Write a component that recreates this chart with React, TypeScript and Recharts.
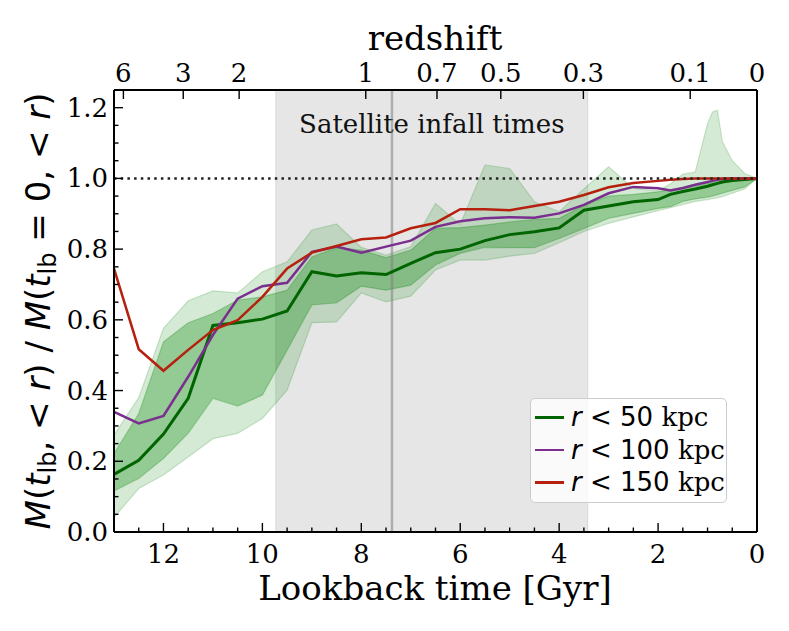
import React from 'react';
import {
  ComposedChart,
  Area,
  Line,
  XAxis,
  YAxis,
  ReferenceArea,
  ReferenceLine,
  Legend,
} from 'recharts';

// lookback time [Gyr] of each snapshot
const LOOKBACK = [
  13, 12.5, 12, 11.5, 11, 10.5, 10, 9.5, 9, 8.5, 8, 7.5, 7, 6.5, 6, 5.5, 5, 4.5, 4, 3.5, 3, 2.5, 2, 1.75, 1.5, 1.25,
  1.0, 0.9, 0.8, 0.7, 0.5, 0.25, 0,
];

// median M(t_lb, <r) / M(0, <r)
const R50 = [
  0.163, 0.203, 0.277, 0.378, 0.584, 0.592, 0.602, 0.625, 0.736, 0.724, 0.733, 0.728, 0.76, 0.79, 0.8, 0.824, 0.841,
  0.849, 0.86, 0.91, 0.922, 0.934, 0.94, 0.955, 0.963, 0.97, 0.978, 0.982, 0.986, 0.99, 0.994, 0.997, 1.0,
];
const R100 = [
  0.34, 0.307, 0.328, 0.439, 0.557, 0.66, 0.695, 0.705, 0.792, 0.807, 0.79, 0.807, 0.824, 0.863, 0.879, 0.887, 0.89,
  0.889, 0.901, 0.925, 0.958, 0.976, 0.972, 0.966, 0.973, 0.982, 0.99, 0.993, 0.996, 0.998, 1.0, 1.0, 1.0,
];
const R150 = [
  0.745, 0.517, 0.456, 0.515, 0.571, 0.599, 0.665, 0.745, 0.79, 0.809, 0.828, 0.833, 0.859, 0.874, 0.913, 0.913, 0.91,
  0.922, 0.934, 0.953, 0.975, 0.987, 0.993, 0.996, 0.998, 1.0, 1.0, 1.0, 1.0, 1.0, 1.0, 1.0, 1.0,
];

// scatter of the r < 50 kpc curve across hosts
const R50_INNER_LO = [
  0.116, 0.151, 0.208, 0.279, 0.378, 0.356, 0.387, 0.514, 0.642, 0.648, 0.695, 0.684, 0.698, 0.755, 0.788, 0.805,
  0.804, 0.804, 0.83, 0.858, 0.887, 0.901, 0.915, 0.92, 0.935, 0.942, 0.947, 0.95, 0.954, 0.958, 0.966, 0.976, 1.0,
];
const R50_INNER_HI = [
  0.222, 0.335, 0.538, 0.592, 0.618, 0.656, 0.665, 0.684, 0.778, 0.804, 0.797, 0.776, 0.797, 0.859, 0.861, 0.868,
  0.877, 0.884, 0.887, 0.924, 0.95, 0.955, 0.962, 0.968, 0.972, 0.978, 0.986, 0.989, 0.992, 0.995, 0.998, 1.0, 1.0,
];
const R50_OUTER_LO = [
  0.041, 0.123, 0.161, 0.212, 0.264, 0.279, 0.321, 0.401, 0.592, 0.594, 0.676, 0.651, 0.667, 0.741, 0.769, 0.769,
  0.78, 0.788, 0.818, 0.85, 0.873, 0.891, 0.909, 0.917, 0.926, 0.935, 0.94, 0.943, 0.945, 0.948, 0.958, 0.97, 1.0,
];
const R50_OUTER_HI = [
  0.274, 0.38, 0.576, 0.654, 0.682, 0.676, 0.736, 0.764, 0.854, 0.871, 0.805, 0.783, 0.807, 0.929, 0.87, 1.038,
  1.028, 0.934, 0.906, 0.97, 1.033, 0.972, 0.965, 0.985, 1.012, 1.018, 1.155, 1.188, 1.193, 1.104, 1.05, 1.014, 1.0,
];

const X_TICKS = [0, 0.5, 1, 1.5, 2, 2.5, 3, 3.5, 4, 4.5, 5, 5.5, 6, 6.5, 7, 7.5, 8, 8.5, 9, 9.5, 10, 10.5, 11, 11.5, 12, 12.5, 13];
const X_LABELED = [0, 2, 4, 6, 8, 10, 12];
const Y_TICKS = [
  0, 0.05, 0.1, 0.15, 0.2, 0.25, 0.3, 0.35, 0.4, 0.45, 0.5, 0.55, 0.6, 0.65, 0.7, 0.75, 0.8, 0.85, 0.9, 0.95, 1, 1.05,
  1.1, 1.15, 1.2,
];
const Y_LABELED = [0, 0.2, 0.4, 0.6, 0.8, 1, 1.2];

// redshift labels on the top axis, and where they sit in lookback time
const REDSHIFT_LABELS = ['6', '3', '2', '1', '0.7', '0.5', '0.3', '0.1', '0'];
const REDSHIFT_AT = [12.81, 11.6, 10.47, 7.91, 6.47, 5.18, 3.51, 1.35, 0];

const INFALL_START = 9.73;
const INFALL_END = 3.42;
const INFALL_MEDIAN = 7.38;

// legend order, and the aperture radius of each curve
const LINE_KEYS = ['r50', 'r100', 'r150'];
const LINE_RADII = ['50', '100', '150'];

const GREEN = '#006400';
const PURPLE = '#7a2e8e';
const RED = '#b5200f';
const SERIF = '"DejaVu Serif", serif';
const SANS = '"DejaVu Sans", sans-serif';

const data = LOOKBACK.map((t, i) => ({
  t,
  r50: R50[i],
  r100: R100[i],
  r150: R150[i],
  inner: [R50_INNER_LO[i], R50_INNER_HI[i]],
  outer: [R50_OUTER_LO[i], R50_OUTER_HI[i]],
}));

const near = (list: number[], v: number) => list.some((l) => Math.abs(l - v) < 1e-6);

function BottomTick({ x, y, payload }: any) {
  const major = near(X_LABELED, payload.value);
  return (
    <g>
      <line x1={x} x2={x} y1={y} y2={y - (major ? 9 : 4.5)} stroke="#000" strokeWidth={1.4} />
      {major && (
        <text x={x} y={y + 31} textAnchor="middle" fontFamily={SERIF} fontSize={26} fill="#000">
          {payload.value}
        </text>
      )}
    </g>
  );
}

function TopTick({ x, y, index }: any) {
  return (
    <g>
      <line x1={x} x2={x} y1={y} y2={y + 9} stroke="#000" strokeWidth={1.4} />
      <text x={x} y={y - 8} textAnchor="middle" fontFamily={SERIF} fontSize={26} fill="#000">
        {REDSHIFT_LABELS[index]}
      </text>
    </g>
  );
}

function LeftTick({ x, y, payload }: any) {
  const major = near(Y_LABELED, payload.value);
  return (
    <g>
      <line x1={x} x2={x + (major ? 9 : 4.5)} y1={y} y2={y} stroke="#000" strokeWidth={1.4} />
      {major && (
        <text x={x - 6} y={y + 9} textAnchor="end" fontFamily={SERIF} fontSize={26} fill="#000">
          {payload.value.toFixed(1)}
        </text>
      )}
    </g>
  );
}

function RightTick({ x, y, payload }: any) {
  const major = near(Y_LABELED, payload.value);
  return <line x1={x} x2={x - (major ? 9 : 4.5)} y1={y} y2={y} stroke="#000" strokeWidth={1.4} />;
}

function InfallLabel({ viewBox }: any) {
  return (
    <text
      x={viewBox.x + viewBox.width / 2}
      y={viewBox.y + 43}
      textAnchor="middle"
      fontFamily={SERIF}
      fontSize={26}
      fill="#111"
    >
      Satellite infall times
    </text>
  );
}

function LegendBox({ payload }: any) {
  const entries = LINE_KEYS.map((k) => (payload || []).find((e: any) => e.dataKey === k)).filter(Boolean);
  return (
    <div
      style={{
        width: 197,
        height: 105,
        boxSizing: 'border-box',
        background: 'rgba(255,255,255,0.8)',
        border: '1.5px solid #cccccc',
        borderRadius: 5,
        paddingTop: 2,
        paddingLeft: 4,
      }}
    >
      {entries.map((entry: any) => (
        <div key={entry.dataKey} style={{ height: 32.7, display: 'flex', alignItems: 'center' }}>
          <span style={{ width: 29, height: 2.5, background: entry.color, marginRight: 7, flex: 'none' }} />
          <span style={{ fontSize: 26, lineHeight: '26px', whiteSpace: 'nowrap', color: '#000' }}>
            <span style={{ fontFamily: SANS, fontStyle: 'italic' }}>r</span>
            <span style={{ fontFamily: SANS }}>{' < ' + LINE_RADII[LINE_KEYS.indexOf(entry.dataKey)] + ' '}</span>
            <span style={{ fontFamily: SERIF }}>kpc</span>
          </span>
        </div>
      ))}
    </div>
  );
}

export default function App() {
  return (
    <div style={{ position: 'absolute', left: 0, top: 0, width: 789, height: 631, background: '#fff' }}>
      <ComposedChart width={789} height={631} data={data} margin={{ top: 50, right: 22, bottom: 59, left: 54 }}>
        <XAxis
          xAxisId="b"
          dataKey="t"
          type="number"
          domain={[0, 13]}
          reversed
          ticks={X_TICKS}
          interval={0}
          tick={<BottomTick />}
          tickLine={false}
          tickSize={0}
          tickMargin={0}
          height={40}
          axisLine={{ stroke: '#000', strokeWidth: 2 }}
        />
        <XAxis
          xAxisId="top"
          orientation="top"
          dataKey="t"
          type="number"
          domain={[0, 13]}
          reversed
          ticks={REDSHIFT_AT}
          interval={0}
          tick={<TopTick />}
          tickLine={false}
          tickSize={0}
          tickMargin={0}
          height={40}
          axisLine={{ stroke: '#000', strokeWidth: 2 }}
        />
        <YAxis
          yAxisId="l"
          type="number"
          domain={[0, 1.25]}
          ticks={Y_TICKS}
          interval={0}
          tick={<LeftTick />}
          tickLine={false}
          tickSize={0}
          tickMargin={0}
          width={60}
          axisLine={{ stroke: '#000', strokeWidth: 2 }}
        />
        <YAxis
          yAxisId="r"
          orientation="right"
          type="number"
          domain={[0, 1.25]}
          ticks={Y_TICKS}
          interval={0}
          tick={<RightTick />}
          tickLine={false}
          tickSize={0}
          tickMargin={0}
          width={10}
          axisLine={{ stroke: '#000', strokeWidth: 2 }}
        />

        <ReferenceArea
          xAxisId="b"
          yAxisId="l"
          x1={INFALL_START}
          x2={INFALL_END}
          fill="#808080"
          fillOpacity={0.2}
          stroke="#808080"
          strokeOpacity={0.2}
          label={<InfallLabel />}
        />
        <ReferenceLine
          xAxisId="b"
          yAxisId="l"
          x={INFALL_MEDIAN}
          stroke="#808080"
          strokeOpacity={0.55}
          strokeWidth={2.5}
        />

        <Area
          xAxisId="b"
          yAxisId="l"
          type="linear"
          dataKey="outer"
          fill="#008000"
          fillOpacity={0.17}
          stroke="#008000"
          strokeOpacity={0.18}
          strokeWidth={1.2}
          legendType="none"
          dot={false}
          activeDot={false}
          isAnimationActive={false}
        />
        <Area
          xAxisId="b"
          yAxisId="l"
          type="linear"
          dataKey="inner"
          fill="#008000"
          fillOpacity={0.3}
          stroke="#008000"
          strokeOpacity={0.25}
          strokeWidth={1.2}
          legendType="none"
          dot={false}
          activeDot={false}
          isAnimationActive={false}
        />
        <Line
          xAxisId="b"
          yAxisId="l"
          type="linear"
          dataKey="r50"
          name="r < 50 kpc"
          stroke={GREEN}
          strokeWidth={3}
          dot={false}
          activeDot={false}
          isAnimationActive={false}
        />
        <Line
          xAxisId="b"
          yAxisId="l"
          type="linear"
          dataKey="r100"
          name="r < 100 kpc"
          stroke={PURPLE}
          strokeWidth={2.5}
          dot={false}
          activeDot={false}
          isAnimationActive={false}
        />
        <Line
          xAxisId="b"
          yAxisId="l"
          type="linear"
          dataKey="r150"
          name="r < 150 kpc"
          stroke={RED}
          strokeWidth={2.5}
          dot={false}
          activeDot={false}
          isAnimationActive={false}
        />
        <ReferenceLine xAxisId="b" yAxisId="l" y={1} stroke="#222" strokeWidth={2.5} strokeDasharray="2.5 4.2" />

        <Legend
          layout="horizontal"
          verticalAlign="middle"
          align="center"
          content={<LegendBox />}
          wrapperStyle={{ left: 530, top: 398, width: 197, height: 105 }}
        />
      </ComposedChart>

      {/* axis titles */}
      <svg width={789} height={631} style={{ position: 'absolute', left: 0, top: 0, pointerEvents: 'none' }}>
        <text x={435} y={600} textAnchor="middle" fontFamily={SERIF} fontSize={34} fill="#000">
          Lookback time [Gyr]
        </text>
        <text x={435} y={50} textAnchor="middle" fontFamily={SERIF} fontSize={34} fill="#000">
          redshift
        </text>
        <text
          transform="translate(50,311) rotate(-90)"
          textAnchor="middle"
          fontFamily={SANS}
          fontSize={34}
          fill="#000"
        >
          <tspan fontStyle="italic">M</tspan>(<tspan fontStyle="italic">t</tspan>
          <tspan fontSize={24} dy={6}>lb</tspan>
          <tspan dy={-6}>, </tspan>&lt; <tspan fontStyle="italic">r</tspan>) / <tspan fontStyle="italic">M</tspan>(
          <tspan fontStyle="italic">t</tspan>
          <tspan fontSize={24} dy={6}>lb</tspan>
          <tspan dy={-6}> = 0, </tspan>&lt; <tspan fontStyle="italic">r</tspan>)
        </text>
      </svg>
    </div>
  );
}
